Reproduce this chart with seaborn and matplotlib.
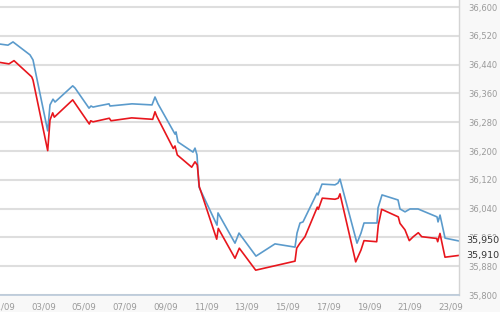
import numpy as np
import pandas as pd
import matplotlib
matplotlib.use("Agg")
import matplotlib.pyplot as plt
import matplotlib.dates as mdates
import seaborn as sns

# ---- data (day of month as fractional day, value) ----
blue_days = [0.872, 1.265, 1.511, 2.346, 2.494, 3.216, 3.329, 3.477, 3.575, 4.445, 4.558,
             5.246, 5.344, 5.444, 5.688, 6.229, 6.278, 7.359, 8.342, 8.489, 8.636, 9.472,
             9.521, 9.619, 10.356, 10.455, 10.553, 10.651, 11.536, 11.585, 12.42, 12.617,
             13.452, 14.386, 15.369, 15.468, 15.615, 15.762, 16.450, 16.499, 16.696, 17.334,
             17.482, 17.580, 18.416, 18.612, 18.760, 19.399, 19.449, 19.645, 20.431, 20.530,
             20.776, 21.021, 21.415, 22.348, 22.398, 22.496, 22.742, 23.43]
blue_vals = [36497, 36494, 36503, 36467, 36453, 36256, 36328, 36344, 36336, 36381, 36375,
             36319, 36325, 36322, 36325, 36331, 36325, 36331, 36328, 36350, 36331, 36247,
             36253, 36225, 36197, 36208, 36189, 36100, 35994, 36028, 35944, 35972,
             35908, 35942, 35933, 35972, 36000, 36003, 36083, 36078, 36108, 36106,
             36111, 36122, 35944, 35972, 36000, 36000, 36042, 36078, 36064, 36039,
             36031, 36039, 36039, 36017, 36003, 36022, 35958, 35950]

red_days = [0.872, 1.314, 1.560, 2.430, 2.494, 3.216, 3.329, 3.462, 3.541, 4.445, 5.260,
            5.329, 5.442, 5.688, 6.243, 6.327, 7.344, 8.376, 8.489, 8.572, 9.388, 9.472,
            9.585, 10.292, 10.455, 10.568, 10.666, 11.521, 11.600, 12.42, 12.632, 13.437,
            15.369, 15.452, 15.614, 15.860, 16.464, 16.514, 16.710, 17.334, 17.496, 17.580,
            18.351, 18.612, 18.760, 19.383, 19.462, 19.629, 20.445, 20.528, 20.774, 20.985,
            21.182, 21.428, 21.595, 22.332, 22.381, 22.494, 22.740, 23.43]
red_vals = [36446, 36442, 36451, 36406, 36397, 36201, 36286, 36306, 36294, 36342, 36275,
            36284, 36281, 36284, 36291, 36284, 36292, 36288, 36309, 36297, 36207, 36214,
            36189, 36155, 36170, 36161, 36101, 35955, 35985, 35902, 35930, 35869,
            35894, 35930, 35944, 35962, 36044, 36038, 36069, 36066, 36069, 36081,
            35892, 35925, 35951, 35948, 35994, 36038, 36017, 35999, 35981, 35951,
            35962, 35973, 35962, 35957, 35948, 35971, 35905, 35910]

series_names = ["Blue", "Red"]
series_colors = ["#5b9bcc", "#e8161d"]
y_ticks = [35800, 35880, 35960, 36040, 36120, 36200, 36280, 36360, 36440, 36520, 36600]
x_tick_days = [1, 3, 5, 7, 9, 11, 13, 15, 17, 19, 21, 23]
end_labels = ["35,950", "35,910"]

base = pd.Timestamp("2015-09-01")
def to_time(days):
    return base + pd.to_timedelta(np.array(days) - 1.0, unit="D")

df = pd.concat([
    pd.DataFrame({"time": to_time(blue_days), "value": blue_vals, "series": series_names[0]}),
    pd.DataFrame({"time": to_time(red_days), "value": red_vals, "series": series_names[1]}),
], ignore_index=True)

sns.set_style("white")
plt.rcParams["font.family"] = ["DejaVu Sans"]

W, H = 500, 312
fig = plt.figure(figsize=(W / 100, H / 100), dpi=100, facecolor="#f8f8f8")
ax = fig.add_axes([0, 1 - 295 / H, 459.3 / W, 295 / H])
ax.set_facecolor("white")

sns.lineplot(data=df, x="time", y="value", hue="series", palette=series_colors,
             estimator=None, sort=False, linewidth=1.2, legend=False, ax=ax)

ax.set_xlim(to_time([0.872])[0], to_time([23.443])[0])
ax.set_ylim(35800, 36600 + 7 / 0.36)

ax.set_yticks(y_ticks)
ax.set_yticklabels([f"{v:,}" for v in y_ticks])
ax.yaxis.tick_right()
ax.tick_params(axis="y", length=0, pad=6.2, labelsize=6, labelcolor="#9a9a9a")
ax.grid(axis="y", color="#dedede", linewidth=1.5)
ax.grid(axis="x", visible=False)
ax.set_axisbelow(True)

ax.set_xticks(to_time(x_tick_days))
ax.xaxis.set_major_formatter(mdates.DateFormatter("%d/%m"))
ax.tick_params(axis="x", length=3, width=0.8, color="#b9c9d9", direction="out",
               pad=2.2, labelsize=6.2, labelcolor="#9a9a9a")

for s in ["top", "left"]:
    ax.spines[s].set_visible(False)
ax.spines["right"].set_color("#d4d4d4")
ax.spines["right"].set_linewidth(1.0)
ax.spines["bottom"].set_color("#b9c9d9")
ax.spines["bottom"].set_linewidth(1.2)
ax.set_xlabel("")
ax.set_ylabel("")

end_vals = [blue_vals[-1], red_vals[-1]]
for lab, v in zip(end_labels, end_vals):
    ax.text(1 + 6.5 / 459.3, v, lab, transform=ax.get_yaxis_transform(),
            ha="left", va="center", fontsize=6.8, color="#333333",
            bbox=dict(facecolor="#f8f8f8", edgecolor="none", pad=0.6), clip_on=False)

fig.savefig("out.png", dpi=100, facecolor=fig.get_facecolor())
